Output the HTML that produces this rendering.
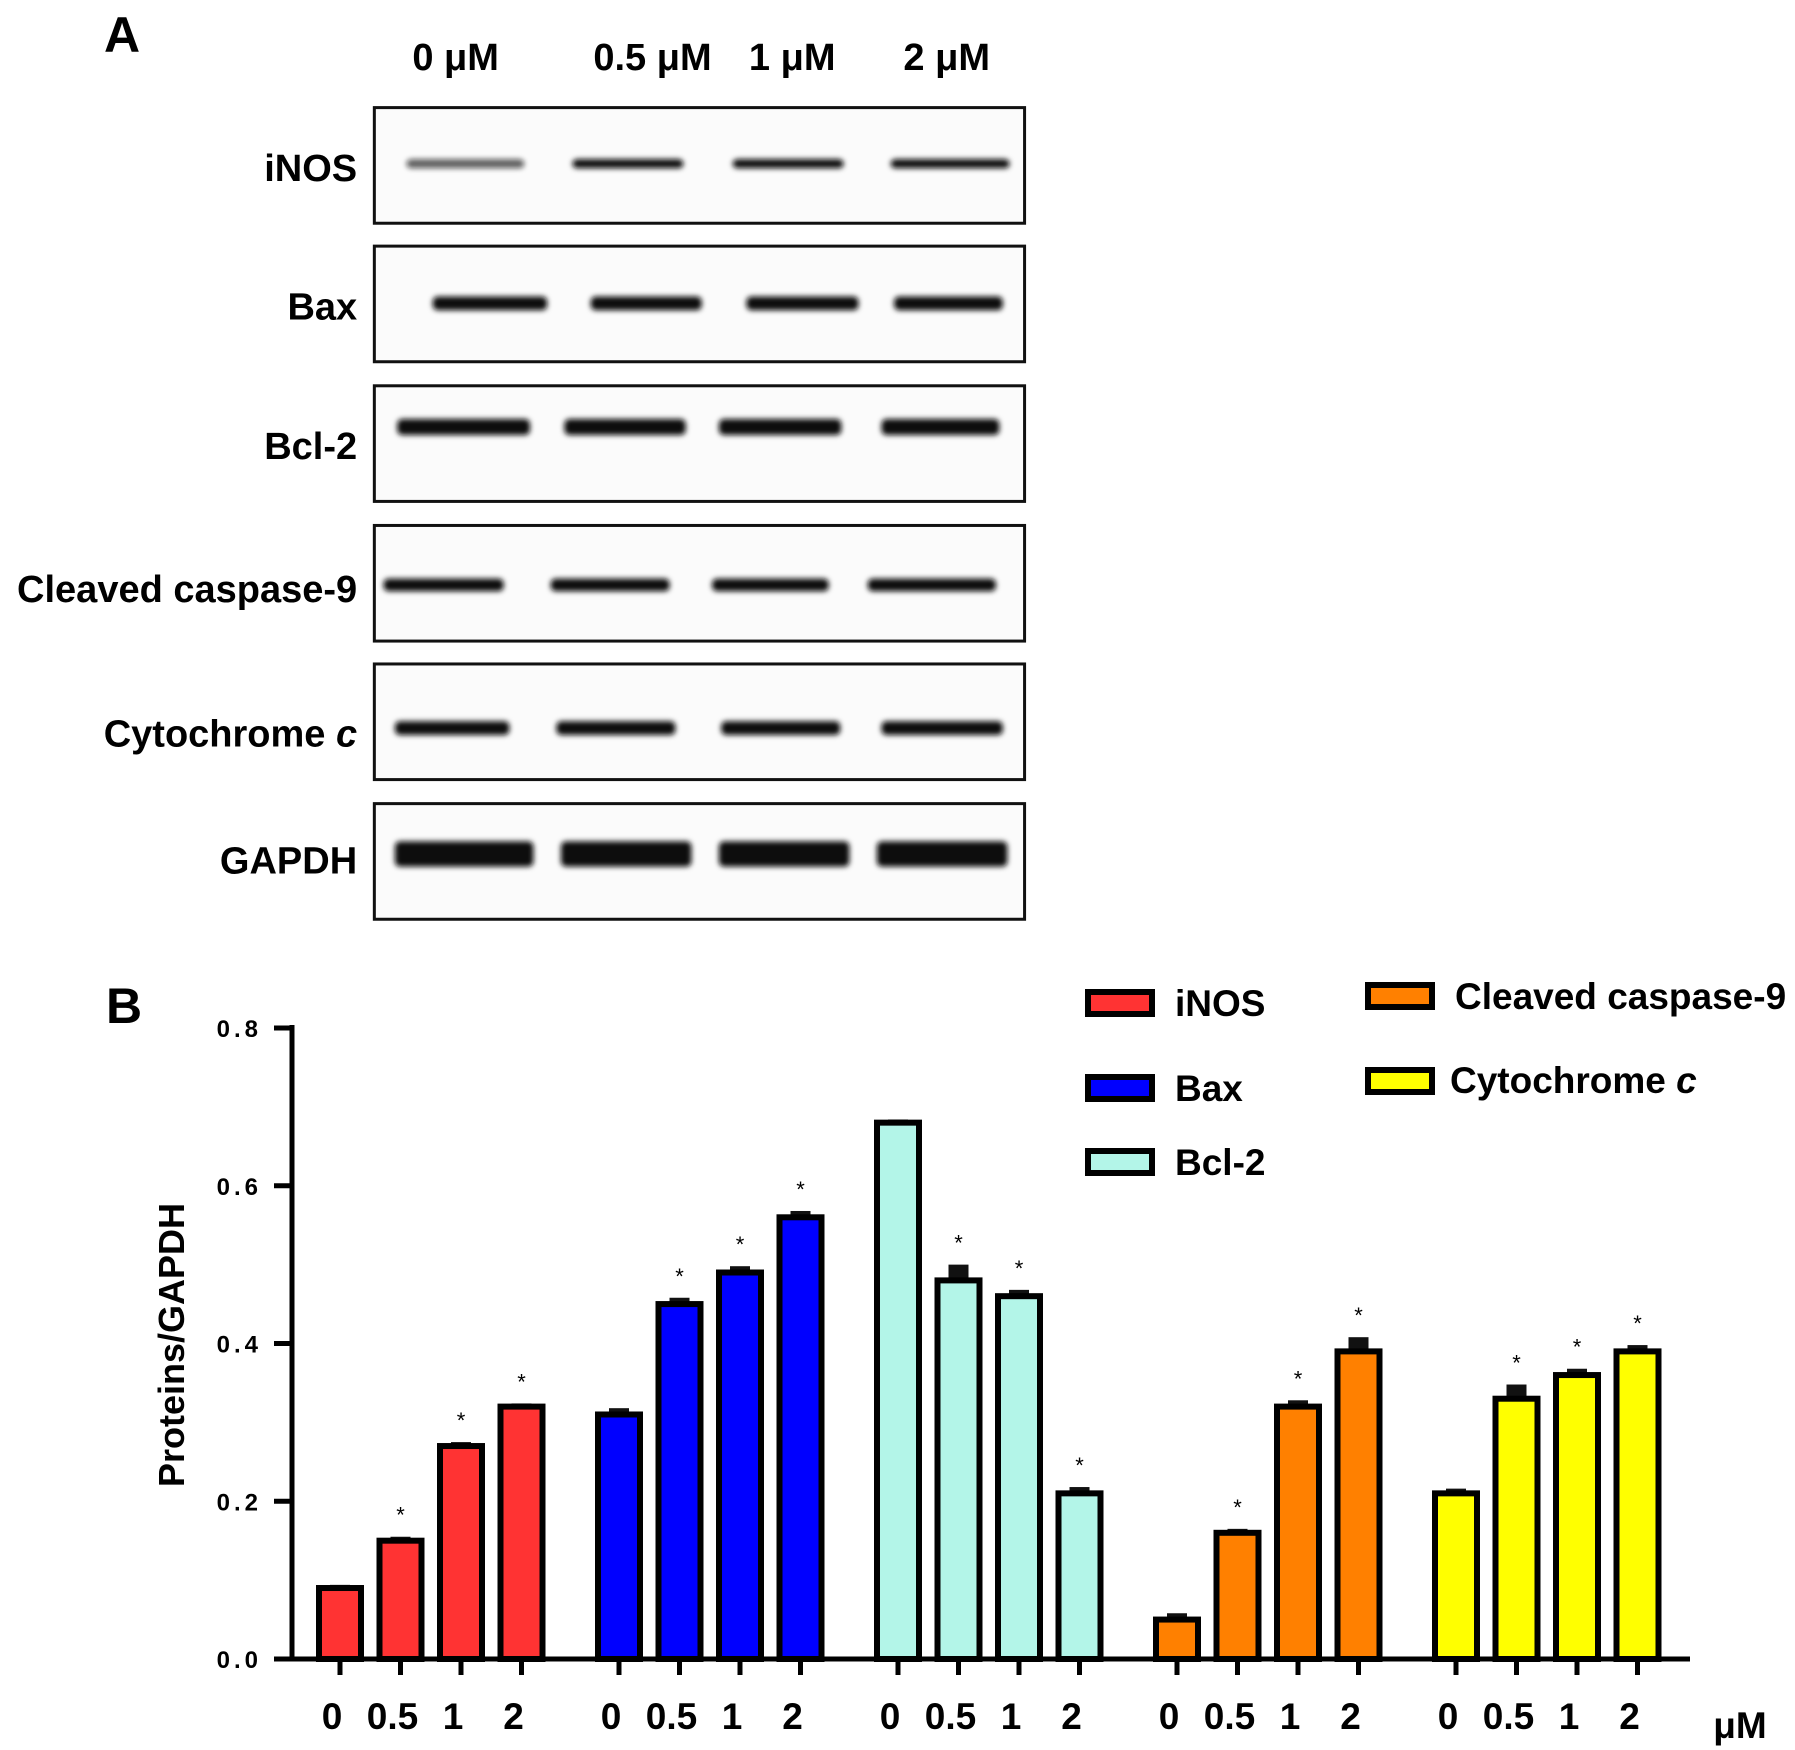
<!DOCTYPE html>
<html><head><meta charset="utf-8"><style>
html,body{margin:0;padding:0;background:#fff;}
svg{display:block;font-family:"Liberation Sans",Arial,sans-serif;font-weight:bold;}
</style></head><body>
<svg id="fig" width="1795" height="1750" viewBox="0 0 1795 1750">
<defs><filter id="blur" x="-10%" y="-100%" width="120%" height="300%"><feGaussianBlur stdDeviation="2.6"/></filter></defs>
<text x="104" y="52" font-size="50">A</text>
<text x="106" y="1023" font-size="50">B</text>
<g id="blot"></g>
<g id="chart"></g>
</svg>
<script>
const S = 1795/1568;
const NS = "http://www.w3.org/2000/svg";
function mk(tag, attrs, parent, txt){const e=document.createElementNS(NS,tag);for(const k in attrs)e.setAttribute(k,attrs[k]);if(txt!==undefined)e.textContent=txt;parent.appendChild(e);return e;}

// ---------- Panel A: blot ----------
const blot = document.getElementById('blot');
const doseHeaders = ["0 μM","0.5 μM","1 μM","2 μM"];
const headerX = [398,570,692,827];
doseHeaders.forEach((t,i)=>{
  const el = mk('text',{x:headerX[i]*S,y:70,'font-size':38,'text-anchor':'middle'},blot,t);
  
  
});
const rowNames = ["iNOS","Bax","Bcl-2","Cleaved caspase-9","Cytochrome c","GAPDH"];
const rowTop = [94,215,337,459,580,702];
const bandY = [143,265,373,511,636,746];
const bandH = [8,12,14,11,12,22];
const bandX = [
 [[355,458],[500,597],[640,737],[778,882]],
 [[378,478],[516,613],[652,750],[781,876]],
 [[347,463],[493,599],[628,735],[770,873]],
 [[335,440],[481,585],[622,724],[758,870]],
 [[345,445],[486,590],[630,734],[770,876]],
 [[345,466],[490,604],[628,742],[766,880]]];
rowNames.forEach((n,r)=>{
  const y0 = rowTop[r]*S;
  const box = mk('rect',{x:327*S,y:y0,width:(895-327)*S,height:101*S,fill:'#fbfbfb',stroke:'#111','stroke-width':3},blot);
  
  
  let lab;
  if(r===4){
    lab = mk('text',{x:312*S,y:(rowTop[r]+72)*S,'font-size':38,'text-anchor':'end'},blot);
    mk('tspan',{},lab,'Cytochrome ');
    mk('tspan',{'font-style':'italic'},lab,'c');
  } else {
    lab = mk('text',{x:312*S,y:(rowTop[r]+(r===3?67:(r===5?61:64)))*S,'font-size':38,'text-anchor':'end'},blot,n);
  }
  
  
  bandX[r].forEach((bx,i)=>{
    const b = mk('rect',{x:bx[0]*S,y:(bandY[r]-bandH[r]/2)*S,width:(bx[1]-bx[0])*S,height:bandH[r]*S,rx:5,fill:'#0a0a0a',filter:'url(#blur)',opacity:(r===0&&i===0)?0.65:1},blot);
    
    
  });
});

// ---------- Panel B: chart ----------
const proteins = ["iNOS","Bax","Bcl-2","Cleaved caspase-9","Cytochrome c"];
const colors = ["#ff3333","#0000ff","#b3f5e8","#ff8000","#ffff00"];
const doses = ["0","0.5","1","2"];
const valINOS = [0.09,0.15,0.27,0.32];
const valBax  = [0.31,0.45,0.49,0.56];
const valBcl2 = [0.68,0.48,0.46,0.21];
const valCasp = [0.05,0.16,0.32,0.39];
const valCyto = [0.21,0.33,0.36,0.39];
const errINOS = [0.004,0.005,0.005,0.004];
const errBax  = [0.008,0.008,0.008,0.008];
const errBcl2 = [0.004,0.02,0.008,0.008];
const errCasp = [0.008,0.005,0.008,0.018];
const errCyto = [0.006,0.018,0.008,0.008];
const sigINOS = [0,1,1,1], sigBax=[0,1,1,1], sigBcl2=[0,1,1,1], sigCasp=[0,1,1,1], sigCyto=[0,1,1,1];
const yTicks = [0,0.2,0.4,0.6,0.8];
const yTickLabels = ["0.0","0.2","0.4","0.6","0.8"];
const series=[valINOS,valBax,valBcl2,valCasp,valCyto];
const errs=[errINOS,errBax,errBcl2,errCasp,errCyto];
const sigs=[sigINOS,sigBax,sigBcl2,sigCasp,sigCyto];

const chart=document.getElementById('chart');
const X0=292, Y0=1659, YTOP=1028, XEND=1690;
const yScale=v=>Y0-(v/0.8)*(Y0-YTOP);
const xScale=(g,i)=>340+g*279+i*60.5;
const BW=42;

series.forEach((vals,g)=>{
  vals.forEach((v,i)=>{
    const cx=xScale(g,i), y=yScale(v), e=yScale(v+errs[g][i]);
    const eb=mk('rect',{x:cx-10,y:e,width:20,height:y-e+3,fill:'#111'},chart);
    
    
    const r=mk('rect',{x:cx-BW/2,y:y,width:BW,height:Y0-y,fill:colors[g],stroke:'#000','stroke-width':6},chart);
    
    
    if(sigs[g][i]){
      const s=mk('text',{x:cx,y:e-14,'font-size':22,'text-anchor':'middle','font-weight':'normal'},chart,'*');
      
      
    }
    const tk=mk('line',{x1:cx,y1:Y0,x2:cx,y2:Y0+16,stroke:'#000','stroke-width':5},chart);
    
    
    const tl=mk('text',{x:cx-8,y:1729,'font-size':37,'text-anchor':'middle'},chart,doses[i]);
    
    
  });
});
const ya=mk('line',{x1:X0,y1:YTOP-3,x2:X0,y2:Y0+2,stroke:'#000','stroke-width':5},chart);


const xa=mk('line',{x1:X0-2,y1:Y0,x2:XEND,y2:Y0,stroke:'#000','stroke-width':5},chart);


yTicks.forEach((v,i)=>{
  const y=yScale(v);
  const t=mk('line',{x1:X0-18,y1:y,x2:X0,y2:y,stroke:'#000','stroke-width':5},chart);
  
  
  const l=mk('text',{x:X0-30,y:y+9,'font-size':24,'text-anchor':'end','letter-spacing':'4'},chart,yTickLabels[i]);
  
  
});
const yt=mk('text',{x:0,y:0,'font-size':36,'text-anchor':'middle',transform:'translate(184,1345) rotate(-90)'},chart,'Proteins/GAPDH');


const um=mk('text',{x:1740,y:1738,'font-size':37,'text-anchor':'middle'},chart,'μM');



const legX=[1088,1088,1088,1368,1368];
const legY=[1002,1087,1161,995,1080];
const legTX=[1175,1175,1175,1455,1450];
proteins.forEach((p,g)=>{
  const b=mk('rect',{x:legX[g],y:legY[g]-10,width:64,height:22,fill:colors[g],stroke:'#000','stroke-width':6},chart);
  
  
  let t;
  if(g===4){
    t=mk('text',{x:legTX[g],y:legY[g]+13,'font-size':37},chart);
    mk('tspan',{},t,'Cytochrome ');
    mk('tspan',{'font-style':'italic'},t,'c');
  } else {
    t=mk('text',{x:legTX[g],y:legY[g]+14,'font-size':37},chart,p);
  }
  
  
});
</script>
</body></html>
